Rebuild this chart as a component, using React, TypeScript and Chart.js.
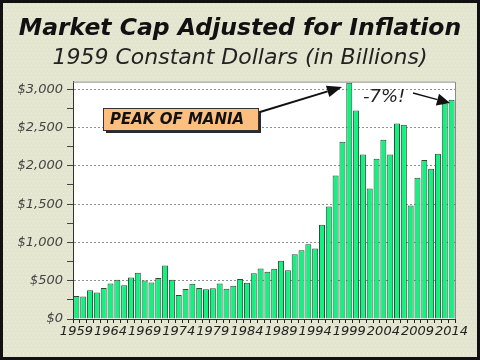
import { useEffect, useRef } from 'react';
import { Chart, registerables } from 'chart.js';

Chart.register(...registerables);

const years = [
  '1959', '1960', '1961', '1962', '1963', '1964', '1965', '1966', '1967', '1968',
  '1969', '1970', '1971', '1972', '1973', '1974', '1975', '1976', '1977', '1978',
  '1979', '1980', '1981', '1982', '1983', '1984', '1985', '1986', '1987', '1988',
  '1989', '1990', '1991', '1992', '1993', '1994', '1995', '1996', '1997', '1998',
  '1999', '2000', '2001', '2002', '2003', '2004', '2005', '2006', '2007', '2008',
  '2009', '2010', '2011', '2012', '2013', '2014',
];

const marketCap = [
  301, 293, 376, 345, 406, 463, 511, 441, 542, 603,
  502, 476, 537, 699, 511, 312, 392, 460, 405, 388,
  401, 465, 396, 435, 522, 474, 596, 661, 617, 656,
  760, 635, 847, 897, 976, 920, 1230, 1468, 1873, 2314,
  3085, 2723, 2148, 1703, 2091, 2340, 2148, 2553, 2536, 1481,
  1843, 2075, 1962, 2159, 2815, 2862,
];

const xTickYears = ['1959', '1964', '1969', '1974', '1979', '1984', '1989', '1994', '1999', '2004', '2009', '2014'];
const yTickValues = [0, 500, 1000, 1500, 2000, 2500, 3000];

const titleText = 'Market Cap Adjusted for Inflation';
const subtitleText = '1959 Constant Dollars (in Billions)';
const peakLabel = 'PEAK OF MANIA';
const dropLabel = '-7%!';

const FONT = '"DejaVu Sans", Verdana, sans-serif';

function arrow(ctx: CanvasRenderingContext2D, x1: number, y1: number, x2: number, y2: number, head: number, half: number) {
  const ang = Math.atan2(y2 - y1, x2 - x1);
  const bx = x2 - Math.cos(ang) * head;
  const by = y2 - Math.sin(ang) * head;
  ctx.beginPath();
  ctx.moveTo(x1, y1);
  ctx.lineTo(bx, by);
  ctx.stroke();
  ctx.beginPath();
  ctx.moveTo(x2, y2);
  ctx.lineTo(bx + Math.sin(ang) * half, by - Math.cos(ang) * half);
  ctx.lineTo(bx - Math.sin(ang) * half, by + Math.cos(ang) * half);
  ctx.closePath();
  ctx.fill();
}

const decorPlugin = {
  id: 'decor',
  beforeDraw(chart: any) {
    const { ctx, width, height, chartArea: a } = chart;
    ctx.save();
    ctx.fillStyle = '#e3e5cf';
    ctx.fillRect(0, 0, width, height);
    ctx.fillStyle = 'rgba(255,255,255,0.5)';
    let row = 0;
    for (let y = 1; y < height; y += 4) {
      for (let x = row % 2 ? 1 : 3; x < width; x += 4) ctx.fillRect(x, y, 1, 1);
      row++;
    }
    ctx.fillStyle = '#ffffff';
    ctx.fillRect(a.left, a.top, a.right - a.left, a.bottom - a.top);
    ctx.restore();
  },
  afterDraw(chart: any) {
    const { ctx, width, height, chartArea: a } = chart;
    ctx.save();
    // plot frame
    ctx.strokeStyle = '#8a8a8a';
    ctx.lineWidth = 1;
    ctx.beginPath();
    ctx.moveTo(a.left, a.top + 0.5);
    ctx.lineTo(a.right + 0.5, a.top + 0.5);
    ctx.lineTo(a.right + 0.5, a.bottom);
    ctx.stroke();

    // Peak of mania box
    const bx = 103, by = 108, bw = 155, bh = 22;
    ctx.fillStyle = '#2a2a2a';
    ctx.fillRect(bx + 3, by + 3, bw, bh);
    ctx.fillStyle = '#fcbf7f';
    ctx.fillRect(bx, by, bw, bh);
    ctx.strokeStyle = '#333';
    ctx.lineWidth = 1;
    ctx.strokeRect(bx + 0.5, by + 0.5, bw, bh);
    ctx.fillStyle = '#111';
    ctx.font = `italic bold 15px ${FONT}`;
    ctx.textAlign = 'left';
    ctx.textBaseline = 'middle';
    ctx.fillText(peakLabel, bx + 7, by + bh / 2 + 1);

    ctx.strokeStyle = '#111';
    ctx.fillStyle = '#111';
    ctx.lineWidth = 2;
    arrow(ctx, bx + bw + 2, 112, 342, 87, 15, 6);

    // -7% label
    ctx.font = `italic 18px ${FONT}`;
    ctx.fillStyle = '#222';
    ctx.textAlign = 'left';
    ctx.fillText(dropLabel, 363, 97);
    ctx.lineWidth = 1.5;
    ctx.strokeStyle = '#111';
    ctx.fillStyle = '#111';
    arrow(ctx, 413, 93, 450, 103, 13, 6);

    // outer border
    ctx.strokeStyle = '#111';
    ctx.lineWidth = 3;
    ctx.strokeRect(1.5, 1.5, width - 3, height - 3);
    ctx.restore();
  },
};

export default function App() {
  const ref = useRef<HTMLCanvasElement | null>(null);

  useEffect(() => {
    if (!ref.current) return;
    const chart = new Chart(ref.current, {
      type: 'bar',
      data: {
        labels: years,
        datasets: [
          {
            data: marketCap,
            backgroundColor: '#10f37f',
            borderColor: '#2d4a38',
            borderWidth: 1,
            barPercentage: 0.88,
            categoryPercentage: 1,
          },
        ],
      },
      options: {
        responsive: false,
        animation: false,
        devicePixelRatio: 1,
        layout: { padding: { left: 0, right: 0, top: 0, bottom: 0 } },
        plugins: {
          legend: { display: false },
          tooltip: { enabled: false },
          title: {
            display: true,
            text: titleText,
            color: '#111',
            font: { family: FONT, size: 23.5, weight: 'bold', style: 'italic' },
            padding: { top: 15, bottom: 1 },
          },
          subtitle: {
            display: true,
            text: subtitleText,
            color: '#222',
            font: { family: FONT, size: 22, weight: 'normal', style: 'italic' },
            padding: { top: 1, bottom: 10 },
          },
        },
        scales: {
          x: {
            offset: true,
            afterFit: (s: any) => { s.height = 41; },
            grid: {
              display: true,
              drawOnChartArea: false,
              color: 'transparent',
              tickColor: '#222',
              tickLength: 4,
              offset: true,
            },
            border: { display: true, color: '#333' },
            ticks: {
              autoSkip: false,
              maxRotation: 0,
              minRotation: 0,
              padding: 1,
              color: '#222',
              font: { family: FONT, size: 13, style: 'italic' },
              callback: (_v: any, i: number) => (xTickYears.includes(years[i]) ? years[i] : ''),
            },
          },
          y: {
            min: 0,
            max: 3100,
            afterFit: (s: any) => { s.width = 73; },
            grid: {
              color: (c: any) => {
                const v = c.tick ? c.tick.value : 0;
                return yTickValues.includes(v) && v > 0 ? '#8f8f8f' : 'transparent';
              },
              tickColor: (c: any) => (c.tick && c.tick.value > 3000 ? 'transparent' : '#444'),
              tickLength: 6,
            },
            border: { display: true, color: '#333', dash: [2, 2] },
            ticks: {
              stepSize: 250,
              includeBounds: false,
              padding: 4,
              color: '#444',
              font: { family: FONT, size: 13, style: 'italic' },
              callback: (v: any) => (yTickValues.includes(v) ? '$' + Number(v).toLocaleString('en-US') : ''),
            },
          },
          yRight: {
            position: 'right',
            display: true,
            min: 0,
            max: 3100,
            afterFit: (s: any) => { s.width = 25; },
            grid: { display: false },
            border: { display: false },
            ticks: { display: false },
          },
        },
      },
      plugins: [decorPlugin],
    } as any);
    return () => chart.destroy();
  }, []);

  return (
    <div style={{ position: 'fixed', left: 0, top: 0, width: 480, height: 360 }}>
      <canvas ref={ref} width={480} height={360} />
    </div>
  );
}
